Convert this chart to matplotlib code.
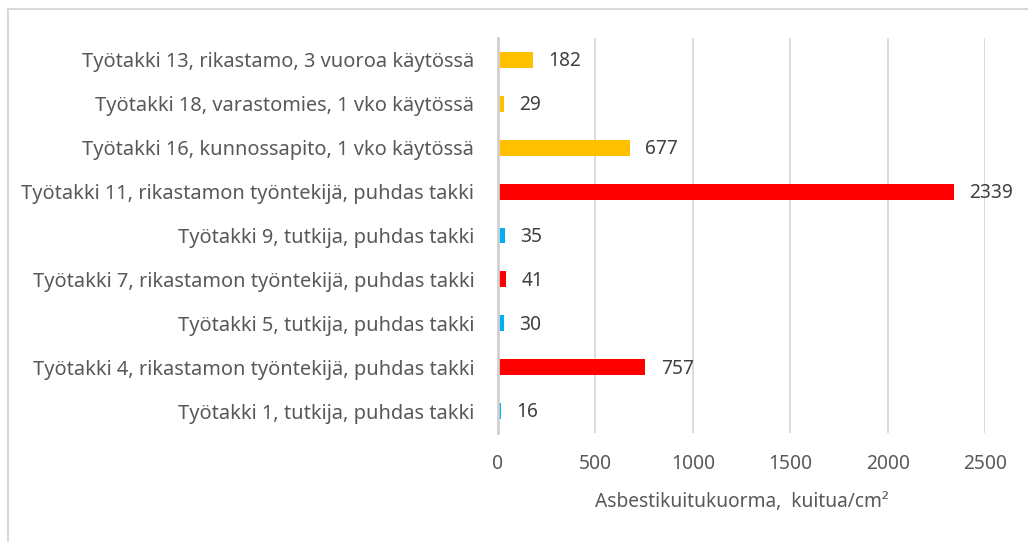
import matplotlib.pyplot as plt
from matplotlib.lines import Line2D

labels = [
    "Työtakki 1, tutkija, puhdas takki",
    "Työtakki 4, rikastamon työntekijä, puhdas takki",
    "Työtakki 5, tutkija, puhdas takki",
    "Työtakki 7, rikastamon työntekijä, puhdas takki",
    "Työtakki 9, tutkija, puhdas takki",
    "Työtakki 11, rikastamon työntekijä, puhdas takki",
    "Työtakki 16, kunnossapito, 1 vko käytössä",
    "Työtakki 18, varastomies, 1 vko käytössä",
    "Työtakki 13, rikastamo, 3 vuoroa käytössä",
]
values = [16, 757, 30, 41, 35, 2339, 677, 29, 182]
colors = ["#00B0F0", "#FF0000", "#00B0F0", "#FF0000", "#00B0F0",
          "#FF0000", "#FFC000", "#FFC000", "#FFC000"]
xticks = [0, 500, 1000, 1500, 2000, 2500]

plt.rcParams["font.family"] = ["Noto Sans", "DejaVu Sans"]
txt = "#595959"
fs = 13.8

fig = plt.figure(figsize=(10.28, 5.42), dpi=100)
ax = fig.add_axes([0.4844, 0.2011, 0.4738, 0.7288])

ypos = list(range(len(labels)))
ax.barh(ypos, values, height=0.36, color=colors, zorder=3)
for y, v in zip(ypos, values):
    ax.annotate(str(v), (v, y), xytext=(11, -1), textcoords="offset points",
                va="center", ha="left", fontsize=fs, color="#404040")

ax.set_xlim(0, 2500)
ax.set_ylim(-0.5, len(labels) - 0.5)
ax.set_xticks(xticks)
ax.set_xticklabels([str(t) for t in xticks])
ax.set_yticks(ypos)
ax.set_yticklabels(labels)
ax.tick_params(axis="both", length=0, labelsize=fs, colors=txt)
ax.tick_params(axis="y", labelsize=14.4, pad=17)
ax.tick_params(axis="x", pad=15)
ax.grid(axis="x", color="#D9D9D9", linewidth=1.3, zorder=0)
for s in ["top", "right", "bottom"]:
    ax.spines[s].set_visible(False)
ax.spines["left"].set_color("#D0D0D0")
ax.spines["left"].set_linewidth(2)
ax.spines["left"].set_zorder(4)
ax.set_xlabel("Asbestikuitukuorma,  kuitua/cm²", fontsize=fs, color=txt, labelpad=13)

# outer chart border (only top and left visible in the crop)
fig.add_artist(Line2D([8 / 1028, 1], [1 - 9 / 542, 1 - 9 / 542], transform=fig.transFigure,
                      color="#D9D9D9", linewidth=1.5))
fig.add_artist(Line2D([8 / 1028, 8 / 1028], [0, 1 - 9 / 542], transform=fig.transFigure,
                      color="#D9D9D9", linewidth=1.5))

fig.savefig("out.png", dpi=100)
